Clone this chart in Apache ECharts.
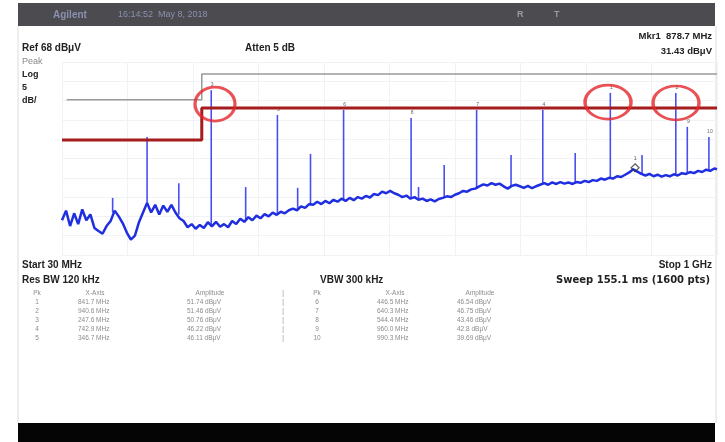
<!DOCTYPE html>
<html>
<head>
<meta charset="utf-8">
<script src="https://cdn.jsdelivr.net/npm/echarts@6/dist/echarts.min.js"></script>
<style>
html, body { margin: 0; padding: 0; background: #fff; }
#chart { width: 725px; height: 442px; }
</style>
</head>
<body>
<div id="chart"></div>
<script>
// sweep trace, [MHz, dBuV]
var trace = [
  [30,27.0],[36,29.5],[42,25.5],[48,28.8],[54,26.0],[60,29.8],[66,27.0],[72,28.5],[78,25.0],[84,24.2],
  [90,23.5],[96,25.5],[102,26.8],[108,29.5],[114,28.0],[120,26.2],[126,23.8],[132,22.0],[138,23.0],[144,26.5],
  [150,29.0],[156,31.5],[162,29.0],[168,31.0],[174,28.5],[180,30.8],[186,29.2],[192,31.0],[198,29.0],[204,27.5],
  [210,26.8],[216,25.2],[222,26.0],[228,24.8],[234,25.8],[240,25.0],[246,26.5],[252,25.4],[258,26.6],[264,25.3],
  [270,26.0],[276,25.2],[282,26.8],[288,26.0],[294,27.4],[300,26.6],[306,27.8],[312,27.0],[318,28.2],[324,27.5],
  [330,28.6],[336,28.0],[342,29.0],[348,28.4],[354,29.2],[360,28.8],[366,29.6],[372,30.0],[378,29.6],[384,30.6],
  [390,30.2],[396,31.2],[402,31.0],[408,31.8],[414,31.2],[420,32.0],[426,31.4],[432,32.3],[438,31.8],[444,32.6],
  [450,32.0],[456,32.8],[462,32.2],[468,33.0],[474,32.6],[480,33.3],[486,32.9],[492,33.8],[498,33.5],[504,34.4],
  [510,34.0],[516,34.6],[522,34.0],[528,33.6],[534,33.0],[540,33.4],[546,32.6],[552,33.0],[558,32.3],[564,32.6],
  [570,32.0],[576,32.4],[582,31.9],[588,32.5],[594,32.8],[600,33.2],[606,33.0],[612,33.6],[618,34.0],[624,34.6],
  [630,34.4],[636,35.0],[642,35.2],[648,35.8],[654,36.3],[660,36.0],[666,36.6],[672,36.2],[678,36.5],[684,35.8],
  [690,35.2],[696,35.9],[702,36.2],[708,35.8],[714,35.4],[720,35.9],[726,35.3],[732,35.8],[738,36.2],[744,36.6],
  [750,36.2],[756,36.8],[762,36.4],[768,36.9],[774,36.5],[780,36.8],[786,36.4],[792,36.9],[798,36.7],[804,37.2],
  [810,36.9],[816,37.4],[822,37.2],[828,37.8],[834,37.5],[840,38.0],[846,37.8],[852,38.4],[858,38.2],[864,38.8],
  [870,39.4],[876,40.2],[882,39.6],[888,39.0],[894,38.6],[900,39.0],[906,38.4],[912,38.8],[918,38.3],[924,38.7],
  [930,38.4],[936,38.9],[942,38.6],[948,39.2],[954,39.0],[960,39.5],[966,39.2],[972,39.8],[978,39.5],[984,40.1],
  [990,39.8],[996,40.4],[1000,40.2]
];

// spikes: [MHz, floor dBuV, top dBuV, peak no.]
var spikes = [
  [105,29.0,32.8,''],[156,31.0,48.6,''],[203,28.5,36.6,''],[251,25.5,60.7,'3'],[302,26.8,35.6,''],
  [349,28.6,54.3,'5'],[379,29.8,35.4,''],[398,30.8,44.2,''],[447,32.2,55.6,'6'],[547,33.0,53.5,'8'],
  [558,32.4,35.6,''],[596,33.0,41.3,''],[644,35.4,55.6,'7'],[695,35.6,43.9,''],[742,36.2,55.6,'4'],
  [790,36.7,44.4,''],[842,37.9,60.0,'1'],[889,38.8,43.9,''],[939,38.7,60.0,'2'],[956,39.1,51.2,'9'],
  [988,39.8,48.6,'10']
];

var limitLine = [[30,47.8],[237,47.8],[237,56.1],[1000,56.1]];
var displayLine = [[37,58.2],[237,58.2],[237,64.9],[1000,64.9]];
var circled = [[256.6,57.1],[838.6,57.6],[939.3,57.4]];
var circleSize = [[40,34],[46,34],[46,34]];
var marker1 = [[878.7,40.6]];

// peak table
var pkNo = ['1','2','3','4','5','6','7','8','9','10'];
var pkFreq = ['841.7 MHz','940.6 MHz','247.6 MHz','742.9 MHz','346.7 MHz',
              '446.5 MHz','640.3 MHz','544.4 MHz','960.0 MHz','990.3 MHz'];
var pkAmp = ['51.74 dBμV','51.46 dBμV','50.76 dBμV','46.22 dBμV','46.11 dBμV',
             '46.54 dBμV','46.75 dBμV','43.46 dBμV','42.8 dBμV','39.69 dBμV'];

var chart = echarts.init(document.getElementById('chart'));

var FONT = '"Liberation Sans", Arial, sans-serif';
var WIDE = '"DejaVu Sans", sans-serif';
function txt(s, x, y, size, opt) {
  opt = opt || {};
  return {
    type: 'text', silent: true, z: 10,
    style: {
      text: s, x: x, y: y,
      font: (opt.bold === false ? '' : 'bold ') + size + 'px ' + (opt.family || FONT),
      fill: opt.color || '#222',
      textAlign: opt.align || 'left',
      verticalAlign: 'middle'
    }
  };
}

var TC = '#8c8c8c';
var graphics = [
  { type: 'rect', shape: { x: 18, y: 3, width: 697, height: 23 }, style: { fill: '#4b4b50' } },
  { type: 'rect', shape: { x: 18, y: 423, width: 697, height: 19 }, style: { fill: '#050505' } },
  { type: 'line', shape: { x1: 18, y1: 26, x2: 18, y2: 423 }, style: { stroke: '#dcdcdc', lineWidth: 1 } },
  { type: 'line', shape: { x1: 716, y1: 26, x2: 716, y2: 423 }, style: { stroke: '#dcdcdc', lineWidth: 1 } },
  txt('Agilent', 53, 15, 10, { color: '#8a90b0' }),
  txt('16:14:52  May 8, 2018', 118, 15, 9, { color: '#8a90b0', bold: false }),
  txt('R', 517, 15, 9, { color: '#9a9aa2' }),
  txt('T', 554, 15, 9, { color: '#9a9aa2' }),
  txt('Ref 68 dBμV', 22, 48, 10),
  txt('Atten 5 dB', 245, 48, 10),
  txt('Mkr1  878.7 MHz', 712, 36, 9.5, { align: 'right' }),
  txt('31.43 dBμV', 712, 51, 9.5, { align: 'right' }),
  txt('Peak', 22, 62, 9, { color: '#888', bold: false }),
  txt('Log', 22, 75, 9),
  txt('5', 22, 88, 9),
  txt('dB/', 22, 101, 9),
  txt('Start 30 MHz', 22, 265, 10),
  txt('Stop 1 GHz', 712, 265, 10, { align: 'right' }),
  txt('Res BW 120 kHz', 22, 280, 10),
  txt('VBW 300 kHz', 320, 280, 10),
  txt('Sweep 155.1 ms (1600 pts)', 710, 280, 10, { align: 'right', family: WIDE }),
  txt('Pk', 37, 293, 6.5, { color: TC, bold: false, align: 'center' }),
  txt('X-Axis', 95, 293, 6.5, { color: TC, bold: false, align: 'center' }),
  txt('Amplitude', 210, 293, 6.5, { color: TC, bold: false, align: 'center' }),
  txt('|', 283, 293, 6.5, { color: TC, bold: false, align: 'center' }),
  txt('Pk', 317, 293, 6.5, { color: TC, bold: false, align: 'center' }),
  txt('X-Axis', 395, 293, 6.5, { color: TC, bold: false, align: 'center' }),
  txt('Amplitude', 480, 293, 6.5, { color: TC, bold: false, align: 'center' })
];
for (var i = 0; i < 5; i++) {
  var yy = 302 + i * 9;
  graphics.push(txt(pkNo[i], 37, yy, 6.5, { color: TC, bold: false, align: 'center' }));
  graphics.push(txt(pkFreq[i], 78, yy, 6.5, { color: TC, bold: false }));
  graphics.push(txt(pkAmp[i], 187, yy, 6.5, { color: TC, bold: false }));
  graphics.push(txt('|', 283, yy, 6.5, { color: TC, bold: false, align: 'center' }));
  graphics.push(txt(pkNo[i + 5], 317, yy, 6.5, { color: TC, bold: false, align: 'center' }));
  graphics.push(txt(pkFreq[i + 5], 377, yy, 6.5, { color: TC, bold: false }));
  graphics.push(txt(pkAmp[i + 5], 457, yy, 6.5, { color: TC, bold: false }));
}

var option = {
  animation: false,
  backgroundColor: '#fff',
  grid: { left: 62, right: 8, top: 62, bottom: 187 },
  xAxis: [
    { type: 'value', min: 30, max: 1000, show: false },
    { type: 'value', min: 0, max: 10, interval: 1, position: 'bottom',
      axisLine: { show: false }, axisTick: { show: false }, axisLabel: { show: false },
      splitLine: { show: true, lineStyle: { color: '#f1f2f5', width: 1 } } }
  ],
  yAxis: [
    { type: 'value', min: 18, max: 68, show: false },
    { type: 'value', min: 0, max: 10, interval: 1,
      axisLine: { show: false }, axisTick: { show: false }, axisLabel: { show: false },
      splitLine: { show: true, lineStyle: { color: '#f1f2f5', width: 1 } } }
  ],
  graphic: graphics,
  series: [
    {
      type: 'line', data: displayLine, showSymbol: false, z: 2,
      lineStyle: { color: '#9a9a9a', width: 1.5 }
    },
    {
      type: 'custom', data: spikes, z: 3,
      renderItem: function (params, api) {
        var b = api.coord([api.value(0), api.value(1)]);
        var t = api.coord([api.value(0), api.value(2)]);
        var lab = spikes[params.dataIndex][3];
        var kids = [{
          type: 'line',
          shape: { x1: b[0], y1: b[1], x2: t[0], y2: t[1] },
          style: { stroke: '#4a4ef0', lineWidth: 1.6 }
        }];
        if (lab) {
          kids.push({
            type: 'text',
            style: { text: lab, x: t[0] + 1, y: t[1] - 3, font: '5px ' + FONT, fill: '#666',
                     textAlign: 'center', verticalAlign: 'bottom' }
          });
        }
        return { type: 'group', children: kids };
      }
    },
    {
      type: 'line', data: trace, showSymbol: false, z: 4,
      lineStyle: { color: '#1f2fe0', width: 2.5 }
    },
    {
      type: 'line', data: limitLine, showSymbol: false, z: 5,
      lineStyle: { color: '#a41c1c', width: 3 }
    },
    {
      type: 'scatter', data: marker1, symbol: 'diamond', symbolSize: 8, z: 6,
      itemStyle: { color: 'rgba(0,0,0,0)', borderColor: '#333', borderWidth: 1.2 },
      label: { show: true, formatter: '1', position: 'top', distance: 2, fontSize: 6, color: '#444' }
    },
    {
      type: 'scatter', data: circled, symbol: 'circle', z: 7,
      symbolSize: function (v, p) { return circleSize[p.dataIndex]; },
      itemStyle: { color: 'rgba(0,0,0,0)', borderColor: '#e3252a', borderWidth: 3 }
    }
  ]
};

chart.setOption(option);
</script>
</body>
</html>
